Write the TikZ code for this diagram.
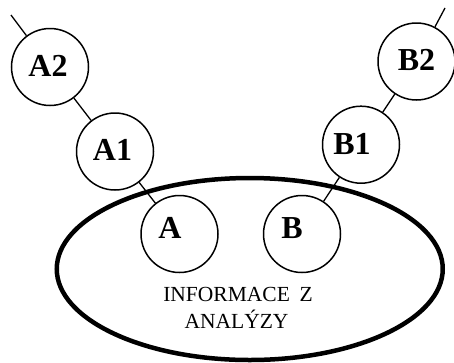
\documentclass[tikz,border=0pt]{standalone}
\usetikzlibrary{shapes.geometric}
\usepackage{fontspec}
\setmainfont{Liberation Serif}
\begin{document}
\begin{tikzpicture}[x=1pt,y=-1pt,
  circ/.style={circle,draw=black,line width=1.5pt,fill=white,minimum size=77pt,inner sep=0pt},
  lbl/.style={font=\fontsize{32}{32}\selectfont\bfseries},
  conn/.style={line width=1.3pt},
  txt/.style={font=\fontsize{21.5}{27}\selectfont,align=center}]
\useasboundingbox (0,0) rectangle (454,362);
% ellipse
\node[ellipse,draw=black,line width=4.5pt,minimum width=386pt,minimum height=182pt,inner sep=0pt] (E) at (249.75,269) {};
% circles
\node[circ,label={[lbl,xshift=-2pt,yshift=1pt]center:A2}] (A2) at (50,67) {};
\node[circ,label={[lbl,xshift=-2.5pt,yshift=2pt]center:A1}] (A1) at (115,151.5) {};
\node[circ,label={[lbl,xshift=-9.5pt,yshift=6pt]center:A}] (A) at (179.5,234) {};
\node[circ,label={[lbl,xshift=0pt,yshift=2pt]center:B2}] (B2) at (416.5,61.5) {};
\node[circ,label={[lbl,xshift=-9pt,yshift=0.5pt]center:B1}] (B1) at (361,144.7) {};
\node[circ,label={[lbl,xshift=-10pt,yshift=6pt]center:B}] (B) at (302,234) {};
% free ends
\coordinate (ta) at (11,15);
\coordinate (tb) at (445,8);
% connectors
\draw[conn] (ta) -- (A2);
\draw[conn] (A2) -- (A1);
\draw[conn] (A1) -- (A);
\draw[conn] (tb) -- (B2);
\draw[conn] (B2) -- (B1);
\draw[conn] (B1) -- (B);
% text
\node[txt,anchor=base] (t1) at (238,301) {INFORMACE\hspace{0.45em}Z};
\node[txt,anchor=base] (t2) at (236.5,328) {ANALÝZY};
\end{tikzpicture}
\end{document}
